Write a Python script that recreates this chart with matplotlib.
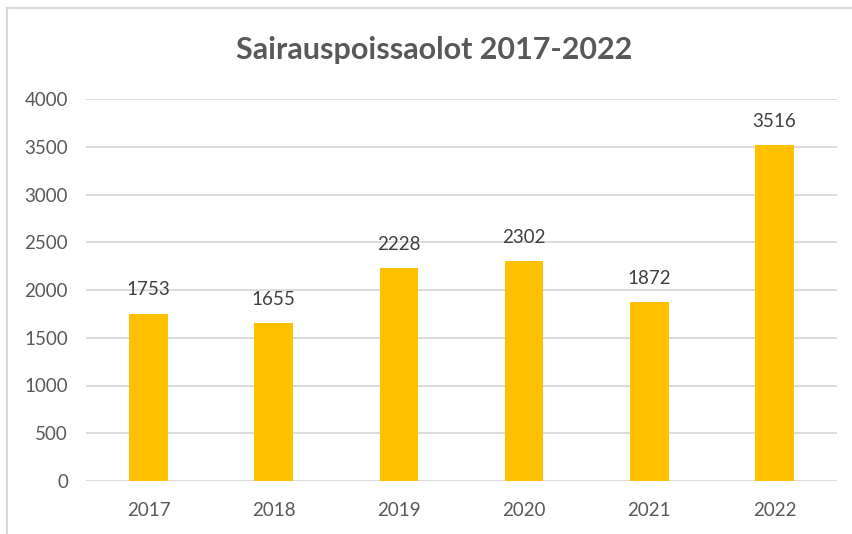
import matplotlib
matplotlib.use("Agg")
import matplotlib.pyplot as plt
from matplotlib.lines import Line2D

years = ["2017", "2018", "2019", "2020", "2021", "2022"]
values = [1753, 1655, 2228, 2302, 1872, 3516]
yticks = [0, 500, 1000, 1500, 2000, 2500, 3000, 3500, 4000]

W, H = 852, 534
fig = plt.figure(figsize=(W / 100, H / 100), dpi=100)
fig.patch.set_facecolor("white")

# chart frame (top and left visible)
fig.add_artist(Line2D([7 / W, 7 / W], [0, 1 - 8 / H], transform=fig.transFigure, color="#D9D9D9", lw=1.5))
fig.add_artist(Line2D([7 / W, 1], [1 - 8 / H, 1 - 8 / H], transform=fig.transFigure, color="#D9D9D9", lw=1.5))

ax = fig.add_axes([86 / W, 1 - 481 / H, (837 - 86) / W, (481 - 99) / H])
x = list(range(len(years)))
ax.bar(x, values, width=0.31, color="#FFC000", zorder=3)
ax.set_xlim(-0.5, len(years) - 0.5)
ax.set_ylim(0, 4000)
ax.set_yticks(yticks)
ax.set_yticklabels([str(t) for t in yticks])
ax.set_xticks(x)
ax.set_xticklabels(years)
ax.yaxis.grid(True, color="#D9D9D9", lw=1.3, zorder=0)
for s in ax.spines.values():
    s.set_visible(False)
ax.tick_params(axis="both", length=0, labelsize=13.5, labelcolor="#595959")
ax.tick_params(axis="y", pad=13)
ax.tick_params(axis="x", pad=15)
for lbl in ax.get_xticklabels() + ax.get_yticklabels():
    lbl.set_fontfamily("Lato")

for xi, v in zip(x, values):
    ax.annotate(str(v), (xi, v), xytext=(0, 11), textcoords="offset points",
                ha="center", va="bottom", fontsize=13.5, color="#404040", family="Lato")

fig.text(434 / W, 1 - 50 / H, "Sairauspoissaolot 2017-2022", ha="center", va="center",
         fontsize=22, fontweight="bold", color="#595959", family="Lato")

fig.savefig("out.png", dpi=100, facecolor="white")
